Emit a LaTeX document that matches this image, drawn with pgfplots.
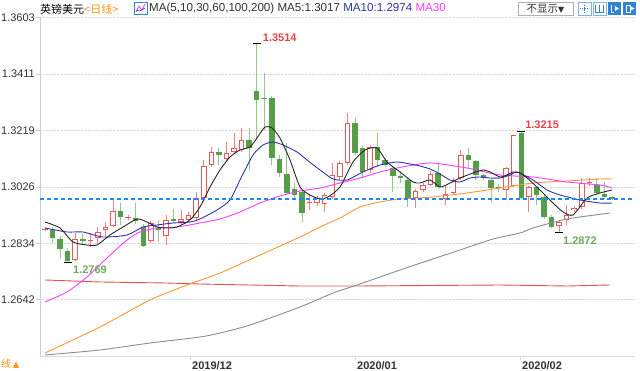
\documentclass[border=0pt]{standalone}
\usepackage{pgfplots}
\pgfplotsset{compat=1.18}
\usepackage{pgfplotstable}
\usepackage{fontspec}
\setmainfont{Liberation Sans}
\newfontfamily\cjk{Noto Sans CJK SC}
\newfontfamily\dejavu{DejaVu Sans}
\definecolor{candred}{RGB}{232,88,88}
\definecolor{wickred}{RGB}{236,130,130}
\definecolor{candgreen}{RGB}{86,158,74}
\definecolor{wickgreen}{RGB}{150,200,140}
\definecolor{maf}{RGB}{40,40,40}
\definecolor{mat}{RGB}{50,50,170}
\definecolor{matt}{RGB}{255,60,255}
\definecolor{mas}{RGB}{255,150,50}
\definecolor{mah}{RGB}{140,140,140}
\definecolor{matwo}{RGB}{230,80,80}
\definecolor{dashblue}{RGB}{30,135,255}
\definecolor{annred}{RGB}{225,70,70}
\definecolor{anngreen}{RGB}{110,170,90}
\definecolor{ticktext}{RGB}{50,50,50}
\definecolor{axisblue}{RGB}{195,208,222}
\definecolor{xaxisgray}{RGB}{215,220,228}
\definecolor{iconblue}{RGB}{50,130,215}
\definecolor{orangetxt}{RGB}{255,150,20}

\pgfplotstableread{
i O H L C
0 1.2878 1.2885 1.2875 1.2880
1 1.2879 1.2890 1.2835 1.2852
2 1.2849 1.2859 1.2784 1.2815
3 1.2808 1.2818 1.2769 1.2775
4 1.2776 1.2869 1.2773 1.2849
5 1.2849 1.2866 1.2830 1.2842
6 1.2843 1.2869 1.2823 1.2846
7 1.2852 1.2890 1.2835 1.2873
8 1.2879 1.2907 1.2859 1.2890
9 1.2893 1.2982 1.2890 1.2944
10 1.2944 1.2971 1.2896 1.2924
11 1.2920 1.2930 1.2912 1.2922
12 1.2920 1.2971 1.2900 1.2910
13 1.2890 1.2900 1.2820 1.2825
14 1.2842 1.2910 1.2835 1.2903
15 1.2886 1.2913 1.2838 1.2879
16 1.2859 1.2930 1.2828 1.2913
17 1.2917 1.2951 1.2903 1.2910
18 1.2907 1.2948 1.2900 1.2917
19 1.2913 1.2940 1.2905 1.2930
20 1.2920 1.3009 1.2915 1.2988
21 1.2988 1.3118 1.2980 1.3098
22 1.3101 1.3162 1.3095 1.3145
23 1.3145 1.3159 1.3101 1.3135
24 1.3121 1.3179 1.3110 1.3142
25 1.3145 1.3210 1.3140 1.3159
26 1.3152 1.3227 1.3145 1.3186
27 1.3186 1.3227 1.3084 1.3159
28 1.3353 1.3514 1.3186 1.3323
29 1.3330 1.3415 1.3220 1.3327
30 1.3330 1.3335 1.3101 1.3125
31 1.3121 1.3135 1.3060 1.3074
32 1.3070 1.3176 1.3000 1.3006
33 1.3020 1.3040 1.2990 1.3000
34 1.3009 1.3012 1.2907 1.2937
35 1.2970 1.2999 1.2948 1.2973
36 1.2971 1.2995 1.2960 1.2988
37 1.2967 1.3005 1.2940 1.2999
38 1.2992 1.3108 1.2985 1.3067
39 1.3060 1.3115 1.3050 1.3108
40 1.3108 1.3278 1.3100 1.3244
41 1.3244 1.3261 1.3135 1.3142
42 1.3159 1.3165 1.3057 1.3077
43 1.3084 1.3170 1.3075 1.3162
44 1.3162 1.3210 1.3094 1.3118
45 1.3118 1.3125 1.3095 1.3101
46 1.3091 1.3095 1.3009 1.3064
47 1.3062 1.3081 1.3040 1.3058
48 1.3050 1.3055 1.2958 1.2988
49 1.2988 1.3020 1.2954 1.3012
50 1.3016 1.3040 1.3010 1.3033
51 1.3033 1.3081 1.3030 1.3070
52 1.3074 1.3111 1.3020 1.3026
53 1.2985 1.3033 1.2965 1.3002
54 1.3006 1.3055 1.3000 1.3050
55 1.3057 1.3152 1.3050 1.3135
56 1.3135 1.3159 1.3091 1.3118
57 1.3115 1.3118 1.3050 1.3067
58 1.3067 1.3070 1.3050 1.3057
59 1.3050 1.3055 1.2975 1.3023
60 1.3024 1.3035 1.3010 1.3021
61 1.3016 1.3095 1.2982 1.3091
62 1.3030 1.3200 1.3025 1.3203
63 1.3210 1.3215 1.2985 1.2988
64 1.2992 1.3030 1.2941 1.3026
65 1.3026 1.3030 1.2965 1.2999
66 1.2992 1.2999 1.2918 1.2924
67 1.2924 1.2930 1.2885 1.2890
68 1.2893 1.2912 1.2872 1.2907
69 1.2914 1.2965 1.2896 1.2931
70 1.2948 1.2960 1.2940 1.2955
71 1.2958 1.3057 1.2950 1.3040
72 1.3040 1.3057 1.3030 1.3043
73 1.3033 1.3057 1.3000 1.3006
74 1.3002 1.3043 1.2985 1.2992
75 1.2992 1.2995 1.2980 1.2985
}\candles

\pgfplotstableread{
x y
0 1.29066
1.98 1.28862
3.70 1.28385
5.56 1.28282
6.88 1.28282
8.60 1.28623
10.32 1.28896
12.17 1.29169
13.49 1.29066
14.81 1.28896
16.14 1.28862
17.46 1.28896
19.18 1.29135
20.50 1.29578
21.83 1.30260
23.15 1.30840
24.47 1.31283
25.79 1.31522
27.12 1.31624
28.04 1.31931
29.10 1.32306
30.03 1.32272
31.08 1.31931
32.41 1.31181
33.73 1.30260
35.05 1.29987
36.38 1.29851
37.43 1.29919
39.02 1.30260
40.74 1.31113
42.33 1.31522
43.92 1.31590
45.24 1.31113
46.96 1.30772
48.68 1.30431
49.60 1.30396
50.93 1.30499
52.25 1.30260
53.57 1.30396
54.89 1.30567
56.61 1.30737
57.94 1.30840
58.86 1.30772
60.19 1.30601
61.11 1.30669
61.90 1.30772
62.83 1.30737
63.76 1.30567
65.48 1.30158
67.20 1.29714
68.52 1.29407
69.84 1.29305
71.69 1.29885
73.41 1.30055
75.00 1.30158
}\mafive

\pgfplotstableread{
x y
0 1.28862
2.91 1.28726
5.03 1.28726
7.67 1.28555
10.85 1.28623
12.96 1.28896
14.81 1.28964
16.93 1.29032
19.18 1.29066
20.50 1.29169
22.75 1.29476
24.47 1.29817
25.79 1.30499
27.51 1.31351
28.84 1.31692
30.16 1.31795
31.48 1.31692
33.33 1.31454
34.66 1.31181
36.38 1.30840
38.10 1.30533
39.95 1.30499
42.06 1.30772
44.31 1.31010
46.56 1.31113
48.28 1.31044
49.60 1.30976
50.93 1.30874
52.25 1.30703
53.57 1.30499
54.89 1.30431
56.22 1.30567
57.54 1.30601
58.86 1.30567
60.19 1.30567
61.51 1.30669
62.43 1.30772
64.55 1.30499
66.40 1.30158
68.12 1.29987
70.77 1.29817
73.41 1.29714
75.00 1.29714
}\maten

\pgfplotstableread{
x y
0 1.26339
2.91 1.26679
5.56 1.27191
8.20 1.27839
10.85 1.28453
12.57 1.28726
14.81 1.28862
17.46 1.28896
20.50 1.29032
23.15 1.29169
25.79 1.29407
28.44 1.29714
31.08 1.29953
33.73 1.30124
36.38 1.30226
39.02 1.30396
41.67 1.30567
44.31 1.30772
46.56 1.30908
49.60 1.31044
51.32 1.31078
55.82 1.30908
60.19 1.30669
64.55 1.30601
69.05 1.30431
73.41 1.30328
75.00 1.30226
}\mathirty

\pgfplotstableread{
x y
0 1.24599
7.28 1.25486
13.89 1.26407
18.78 1.26918
23.15 1.27327
28.44 1.27941
33.73 1.28555
36.38 1.28896
39.02 1.29203
41.67 1.29578
44.31 1.29749
46.96 1.29851
51.32 1.29919
55.82 1.30055
60.19 1.30226
64.55 1.30396
69.05 1.30465
73.41 1.30533
75.00 1.30533
}\masixty

\pgfplotstableread{
x y
0 1.24531
7.28 1.24702
13.89 1.24940
20.50 1.25145
23.15 1.25281
27.12 1.25554
33.73 1.26168
38.10 1.26645
41.27 1.26918
46.96 1.27430
54.89 1.28112
59.26 1.28487
62.83 1.28691
64.55 1.28862
69.05 1.29169
74.74 1.29373
}\mahundred

\pgfplotstableread{
x y
0 1.27089
7.28 1.27021
16.10 1.26986
20.50 1.26952
33.73 1.26884
41.27 1.26884
60.19 1.26918
69.05 1.26884
74.74 1.26918
}\matwohundred

\begin{document}
\begin{tikzpicture}
\begin{axis}[
  at={(0pt,0pt)}, anchor=south west,
  scale only axis, width=595pt, height=339pt,
  xmin=-0.66, xmax=78.04, ymin=1.24497, ymax=1.36057,
  clip=false,
  axis x line*=bottom, axis y line*=left,
  x axis line style={draw=xaxisgray, line width=0.8pt},
  y axis line style={draw=axisblue, line width=0.8pt},
  ytick={1.2642,1.2834,1.3026,1.3219,1.3411,1.3603},
  yticklabels={1.2642,1.2834,1.3026,1.3219,1.3411,1.3603},
  minor y tick num=4,
  xtick={19.18,41.0,62.83},
  xticklabels={2019/12,2020/01,2020/02},
  tick align=outside,
  major tick length=4pt, minor tick length=2.5pt,
  tick style={draw=axisblue, line width=0.7pt},
  xtick style={draw=xaxisgray},
  yticklabel style={font=\fontsize{11}{13}\selectfont, text=ticktext, inner xsep=1pt},
  xticklabel style={font=\bfseries\fontsize{11}{13}\selectfont, text=ticktext, anchor=north west, inner sep=1pt, xshift=1pt},
  ymajorgrids, grid style={densely dotted, draw=gray!30, line width=0.6pt},
]
% wicks
\addplot[draw=wickgreen, line width=0.9pt, quiver={u=0, v={ifthenelse(\thisrow{C}<\thisrow{O},\thisrow{H}-\thisrow{L},0)}}] table[x=i,y=L]{\candles};
\addplot[draw=wickred, line width=0.9pt, quiver={u=0, v={ifthenelse(\thisrow{C}>=\thisrow{O},\thisrow{H}-\thisrow{L},0)}}] table[x=i,y=L]{\candles};
% bodies
\addplot[draw=candgreen, line width=5.5pt, quiver={u=0, v={ifthenelse(\thisrow{C}<\thisrow{O},max(\thisrow{O}-\thisrow{C},0.00035),0)}}] table[x=i,y=C]{\candles};
\addplot[draw=candred, line width=5.5pt, quiver={u=0, v={ifthenelse(\thisrow{C}>=\thisrow{O},max(\thisrow{C}-\thisrow{O},0.00035),0)}}] table[x=i,y=O]{\candles};
\addplot[draw=white, line width=3.6pt, quiver={u=0, v={ifthenelse(\thisrow{C}>=\thisrow{O},max(\thisrow{C}-\thisrow{O}-0.00068,0),0)}}] table[x=i,y expr=\thisrow{O}+0.00034]{\candles};
% moving averages
\addplot[draw=matwo, line width=0.9pt] table[x=x,y=y]{\matwohundred};
\addplot[draw=mah, line width=0.9pt, smooth, tension=0.4] table[x=x,y=y]{\mahundred};
\addplot[draw=mas, line width=0.9pt, smooth, tension=0.4] table[x=x,y=y]{\masixty};
\addplot[draw=matt, line width=0.9pt, smooth, tension=0.4] table[x=x,y=y]{\mathirty};
\addplot[draw=mat, line width=0.9pt, smooth, tension=0.4] table[x=x,y=y]{\maten};
\addplot[draw=maf, line width=0.9pt, smooth, tension=0.4] table[x=x,y=y]{\mafive};
% last price
\addplot[draw=dashblue, line width=1.1pt, dash pattern=on 4pt off 3pt] coordinates {(-0.66,1.2985) (78.04,1.2985)};
% extreme markers
\addplot[only marks, mark=-, mark size=4pt, black, mark options={line width=0.8pt}] coordinates {(28,1.3514) (63,1.3215) (3,1.2769) (68,1.2872)};
\node[anchor=west, inner sep=0pt, text=annred, font=\bfseries\fontsize{11}{13}\selectfont] at (axis cs:28.8,1.3534) {1.3514};
\node[anchor=west, inner sep=0pt, text=annred, font=\bfseries\fontsize{11}{13}\selectfont] at (axis cs:63.5,1.3237) {1.3215};
\node[anchor=west, inner sep=0pt, text=anngreen, font=\bfseries\fontsize{11}{13}\selectfont] at (axis cs:3.7,1.2743) {1.2769};
\node[anchor=west, inner sep=0pt, text=anngreen, font=\bfseries\fontsize{11}{13}\selectfont] at (axis cs:68.5,1.2842) {1.2872};
\end{axis}
% header
\node[anchor=west, inner sep=0pt] at (0pt,347pt) {\cjk\fontsize{11}{13}\selectfont 英镑美元\textcolor{orangetxt}{<日线>}};
\draw[iconblue, line width=0.7pt, fill=white] (94pt,342pt) rectangle (107pt,354pt);
\draw[matt, line width=0.7pt] (96pt,344pt) -- (99pt,350pt) -- (102pt,346pt) -- (105pt,352pt);
\draw[mat, line width=0.6pt] (96pt,346pt) -- (100pt,345pt) -- (105pt,348pt);
\node[anchor=west, inner sep=0pt] at (109pt,347pt) {\fontsize{11.6}{13}\selectfont\color{ticktext}MA(5,10,30,60,100,200) MA5:1.3017 \textcolor{mat}{MA10:1.2974} \textcolor{matt}{MA30}};
\draw[gray!60, line width=0.6pt, fill=white] (478pt,341pt) rectangle (533pt,354pt);
\node[inner sep=0pt] at (505.5pt,347.5pt) {\cjk\fontsize{10.5}{12}\selectfont\color{ticktext}不显示{\dejavu\fontsize{8}{10}\selectfont▼}};
\draw[iconblue!60, line width=0.6pt, fill=white] (538pt,341pt) rectangle (551pt,354pt);
\draw[iconblue, line width=0.8pt, densely dotted] (540pt,347.5pt) -- (549pt,347.5pt) (544.5pt,343pt) -- (544.5pt,352pt);
\draw[iconblue!60, line width=0.6pt, fill=white] (553pt,341pt) rectangle (566pt,354pt);
\draw[iconblue, line width=0.8pt] (555.5pt,351pt) -- (555.5pt,344pt) -- (563.5pt,344pt) -- (563.5pt,351pt) (559.5pt,344pt) -- (559.5pt,351pt);
\fill[iconblue] (568pt,341pt) rectangle (581pt,354pt);
\draw[white, line width=0.9pt] (571pt,351pt) -- (571pt,344pt) -- (574pt,344pt);
\fill[white] (575pt,350pt) -- (579pt,347.5pt) -- (575pt,345pt) -- cycle;
\fill[iconblue] (583pt,341pt) rectangle (596pt,354pt);
\draw[white, line width=0.9pt] (586pt,344pt) rectangle (590pt,351pt);
\fill[white] (590pt,350pt) -- (594.5pt,347.5pt) -- (590pt,345pt) -- cycle;
% bottom-left fragment
\node[anchor=west, inner sep=0pt, text=orangetxt] at (-39pt,-7.5pt) {\cjk\fontsize{10}{12}\selectfont 线\,{\dejavu\fontsize{8.5}{10}\selectfont ▲}};
\pgfresetboundingbox
\path (-40pt,-14pt) rectangle (600pt,356pt);
\end{tikzpicture}
\end{document}
